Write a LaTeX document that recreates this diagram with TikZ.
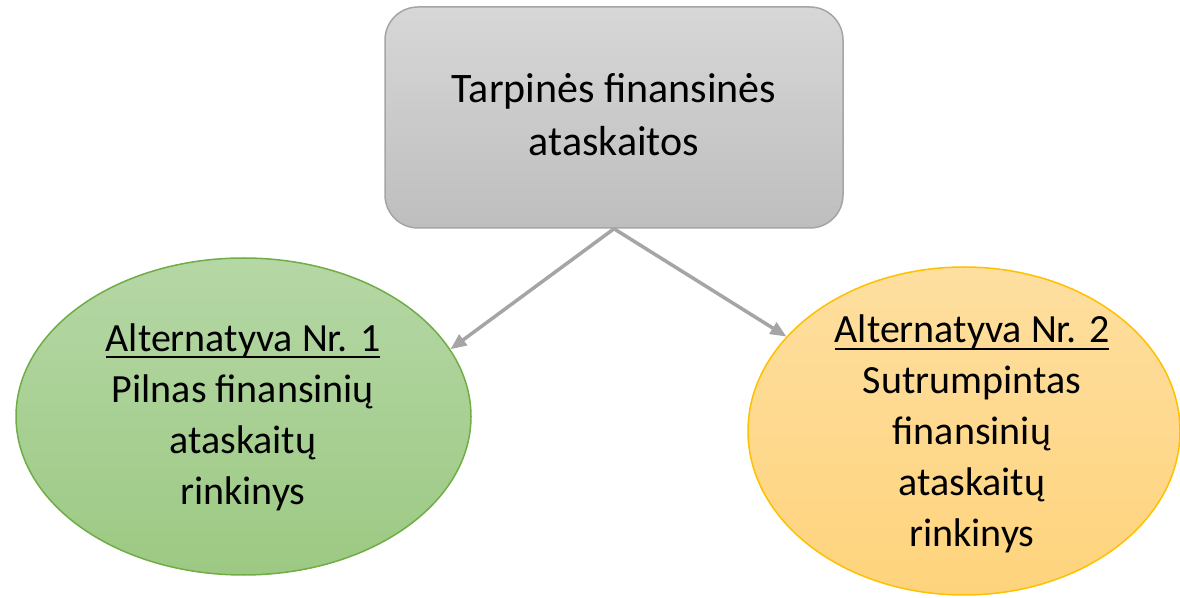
\documentclass[tikz,border=0pt]{standalone}
\usepackage{fontspec}
\setmainfont{Carlito}
\usetikzlibrary{shapes.geometric,arrows.meta}
\definecolor{boxtop}{HTML}{D7D7D7}
\definecolor{boxbot}{HTML}{BEBEBE}
\definecolor{boxline}{HTML}{A5A5A5}
\definecolor{grtop}{HTML}{B5D7A5}
\definecolor{grbot}{HTML}{9CC983}
\definecolor{grline}{HTML}{70AD47}
\definecolor{ortop}{HTML}{FEDFA0}
\definecolor{orbot}{HTML}{FED37C}
\definecolor{orline}{HTML}{FFC000}
\newcommand\ulx[1]{\setbox0\hbox{#1}\leavevmode\rlap{\rule[-7pt]{\wd0}{2pt}}\box0}
\tikzset{
  topbox/.style={draw=boxline, line width=1.5pt, rounded corners=33pt, top color=boxtop, bottom color=boxbot, minimum width=458pt, minimum height=221pt, inner sep=0pt},
  greenell/.style={ellipse, draw=grline, line width=1.5pt, top color=grtop, bottom color=grbot, minimum width=455pt, minimum height=317pt, inner sep=0pt},
  orangeell/.style={ellipse, draw=orline, line width=1.5pt, top color=ortop, bottom color=orbot, minimum width=432pt, minimum height=328pt, inner sep=0pt},
  bigtxt/.style={align=center, inner sep=0pt, font=\fontsize{42}{53}\selectfont},
  elltxt/.style={align=center, inner sep=0pt, font=\fontsize{40}{51}\selectfont},
  conn/.style={draw=boxline, line width=3.5pt, -{Triangle[length=16pt,width=13pt]}}
}
\begin{document}
\begin{tikzpicture}[x=1pt,y=1pt]
\useasboundingbox (0,0) rectangle (1180,597);
\node[topbox] (top) at (614,479.5) {};
\node[greenell] (left) at (243.5,180.5) {};
\node[orangeell] (right) at (964,166) {};
\node[bigtxt] (t0) at (614,482) {Tarpinės finansinės\\ataskaitos};
\node[elltxt] (t1) at (243,180) {\ulx{Alternatyva Nr. 1}\\Pilnas finansinių\\ataskaitų\\rinkinys};
\node[elltxt] (t2) at (972,163) {\ulx{Alternatyva Nr. 2}\\Sutrumpintas\\finansinių\\ataskaitų\\rinkinys};
\draw[conn] (top.south) -- (left.18.4);
\draw[conn] (top.south) -- (right.152.7);
\end{tikzpicture}
\end{document}
